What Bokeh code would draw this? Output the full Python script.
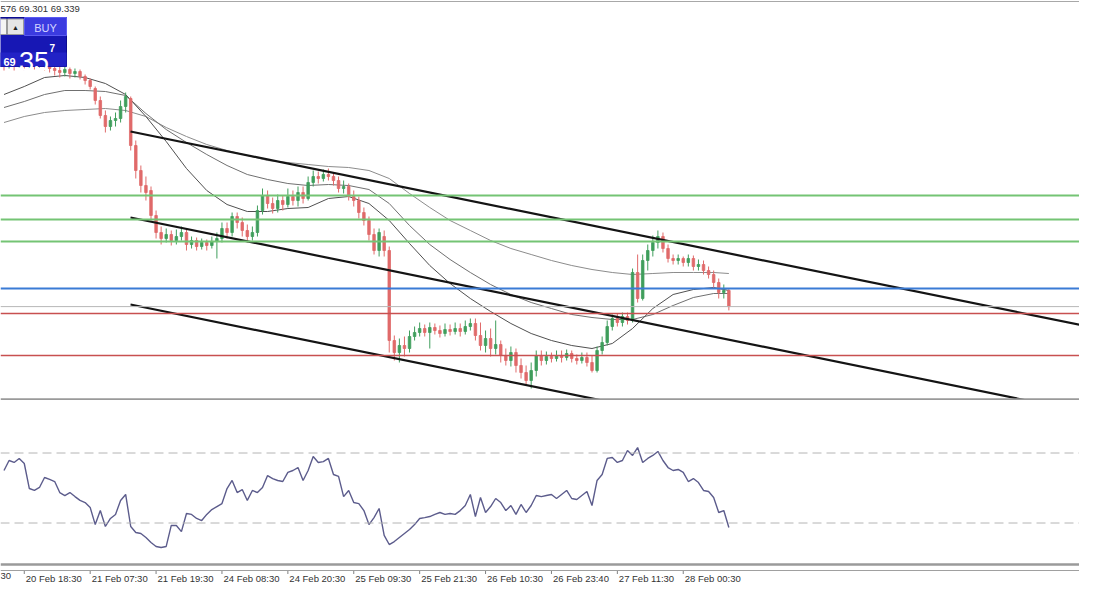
from bokeh.plotting import figure
from bokeh.layouts import column
from bokeh.models import Range1d, Span, ColumnDataSource
from bokeh.core.properties import value
from bokeh.embed import file_html
from bokeh.resources import INLINE

# ---------------- data ----------------
opens = [71.78, 71.74, 71.80, 71.76, 71.78, 71.74, 71.77, 71.75, 71.78, 71.74,
         71.72, 71.70, 71.68, 71.71, 71.67, 71.69, 71.64, 71.60, 71.52, 71.40,
         71.25, 71.14, 71.20, 71.22, 71.34, 71.42, 70.95, 70.70, 70.55, 70.50,
         70.25, 70.08, 70.02, 70.06, 70.00, 70.04, 70.08, 69.96, 70.00, 69.94,
         69.98, 69.95, 69.99, 70.02, 70.12, 70.08, 70.24, 70.18, 70.10, 70.04,
         70.08, 70.30, 70.45, 70.37, 70.32, 70.40, 70.36, 70.44, 70.40, 70.48,
         70.42, 70.58, 70.64, 70.62, 70.66, 70.64, 70.60, 70.52, 70.54, 70.44,
         70.40, 70.28, 70.20, 70.06, 69.90, 70.04, 69.90, 69.00, 68.88, 68.95,
         68.92, 69.04, 69.08, 69.12, 69.08, 69.13, 69.10, 69.07, 69.11, 69.09,
         69.12, 69.09, 69.14, 69.17, 69.05, 68.95, 69.02, 68.92, 68.96, 68.85,
         68.80, 68.88, 68.75, 68.68, 68.60, 68.70, 68.85, 68.80, 68.84, 68.82,
         68.85, 68.83, 68.87, 68.82, 68.80, 68.83, 68.78, 68.70, 68.90, 68.98,
         69.14, 69.22, 69.18, 69.24, 69.20, 69.68, 69.42, 69.80, 69.90, 69.98,
         70.04, 69.92, 69.82, 69.80, 69.82, 69.78, 69.82, 69.74, 69.76, 69.70,
         69.66, 69.58, 69.48, 69.50]
highs = [71.90, 71.88, 71.85, 71.84, 71.82, 71.83, 71.82, 71.84, 71.82, 71.78,
         71.77, 71.74, 71.74, 71.73, 71.72, 71.71, 71.66, 71.62, 71.54, 71.44,
         71.30, 71.24, 71.28, 71.40, 71.48, 71.44, 71.00, 70.75, 70.64, 70.54,
         70.30, 70.14, 70.12, 70.10, 70.11, 70.14, 70.12, 70.04, 70.03, 70.02,
         70.01, 70.04, 70.08, 70.18, 70.18, 70.28, 70.28, 70.23, 70.16, 70.14,
         70.35, 70.52, 70.50, 70.43, 70.46, 70.45, 70.52, 70.50, 70.54, 70.54,
         70.64, 70.70, 70.69, 70.71, 70.72, 70.68, 70.64, 70.60, 70.57, 70.50,
         70.44, 70.33, 70.24, 70.12, 70.12, 70.10, 69.94, 69.05, 69.02, 69.04,
         69.10, 69.14, 69.18, 69.16, 69.18, 69.17, 69.15, 69.17, 69.16, 69.18,
         69.17, 69.20, 69.22, 69.22, 69.18, 69.10, 69.12, 69.20, 69.00, 68.92,
         68.94, 68.92, 68.82, 68.75, 68.78, 68.90, 68.90, 68.89, 68.88, 68.90,
         68.90, 68.91, 68.90, 68.86, 68.88, 68.88, 68.85, 68.94, 69.04, 69.20,
         69.26, 69.27, 69.28, 69.28, 69.72, 69.86, 69.86, 69.96, 70.05, 70.10,
         70.08, 69.96, 69.86, 69.86, 69.84, 69.86, 69.85, 69.81, 69.80, 69.74,
         69.70, 69.62, 69.56, 69.52]
lows = [71.70, 71.72, 71.70, 71.73, 71.70, 71.72, 71.71, 71.73, 71.70, 71.68,
        71.65, 71.63, 71.64, 71.62, 71.63, 71.61, 71.56, 71.51, 71.36, 71.22,
        71.08, 71.10, 71.14, 71.18, 71.28, 70.90, 70.62, 70.48, 70.40, 70.20,
        70.02, 69.96, 69.98, 69.95, 69.96, 70.00, 69.90, 69.92, 69.90, 69.91,
        69.90, 69.92, 69.82, 69.98, 70.02, 70.04, 70.12, 70.04, 69.98, 70.00,
        70.04, 70.26, 70.32, 70.27, 70.28, 70.30, 70.33, 70.35, 70.34, 70.37,
        70.40, 70.54, 70.57, 70.59, 70.60, 70.55, 70.48, 70.47, 70.40, 70.34,
        70.22, 70.15, 70.00, 69.86, 69.84, 69.84, 68.88, 68.80, 68.78, 68.84,
        68.88, 69.00, 69.04, 69.04, 68.92, 69.06, 69.03, 69.04, 69.05, 69.06,
        69.04, 69.06, 69.10, 69.00, 68.90, 68.88, 68.84, 68.86, 68.78, 68.75,
        68.74, 68.68, 68.62, 68.56, 68.52, 68.64, 68.75, 68.76, 68.78, 68.79,
        68.78, 68.80, 68.78, 68.76, 68.77, 68.74, 68.68, 68.68, 68.86, 68.95,
        69.10, 69.14, 69.14, 69.16, 69.18, 69.38, 69.40, 69.70, 69.84, 69.92,
        69.88, 69.78, 69.76, 69.76, 69.74, 69.74, 69.70, 69.70, 69.66, 69.62,
        69.52, 69.42, 69.42, 69.301]
closes = [71.74, 71.80, 71.76, 71.78, 71.74, 71.77, 71.75, 71.78, 71.74, 71.72,
          71.70, 71.68, 71.71, 71.67, 71.69, 71.64, 71.60, 71.54, 71.40, 71.25,
          71.14, 71.20, 71.22, 71.34, 71.44, 70.95, 70.70, 70.55, 70.48, 70.25,
          70.08, 70.02, 70.06, 70.00, 70.04, 70.08, 69.96, 70.00, 69.94, 69.98,
          69.95, 69.99, 70.02, 70.12, 70.08, 70.24, 70.18, 70.10, 70.04, 70.08,
          70.30, 70.45, 70.37, 70.32, 70.40, 70.36, 70.44, 70.40, 70.48, 70.42,
          70.58, 70.64, 70.62, 70.66, 70.64, 70.60, 70.52, 70.54, 70.44, 70.40,
          70.28, 70.20, 70.06, 69.90, 70.08, 69.90, 69.00, 68.88, 68.95, 68.92,
          69.04, 69.08, 69.12, 69.08, 69.13, 69.10, 69.07, 69.11, 69.09, 69.12,
          69.09, 69.14, 69.17, 69.05, 68.95, 69.02, 68.92, 68.96, 68.85, 68.80,
          68.88, 68.75, 68.68, 68.60, 68.70, 68.85, 68.80, 68.84, 68.82, 68.85,
          68.83, 68.87, 68.82, 68.80, 68.83, 68.78, 68.70, 68.90, 68.98, 69.14,
          69.22, 69.18, 69.24, 69.20, 69.68, 69.42, 69.80, 69.90, 69.98, 70.04,
          69.92, 69.82, 69.80, 69.82, 69.78, 69.82, 69.74, 69.76, 69.70, 69.66,
          69.58, 69.48, 69.50, 69.339]

# moving averages, read at every 4th bar
ma_bars = [0, 4, 8, 12, 16, 20, 24, 28, 32, 36, 40, 44, 48, 52, 56, 60, 64, 68,
           72, 76, 80, 84, 88, 92, 96, 100, 104, 108, 112, 116, 120, 124, 128,
           132, 136, 140, 143]
ma_fast = [71.46, 71.54, 71.63, 71.65, 71.63, 71.57, 71.46, 71.24, 70.99, 70.72,
           70.50, 70.36, 70.29, 70.29, 70.32, 70.33, 70.42, 70.44, 70.37, 70.20,
           69.97, 69.75, 69.57, 69.42, 69.29, 69.17, 69.07, 69.00, 68.95, 68.92,
           68.97, 69.12, 69.32, 69.46, 69.51, 69.53, 69.50]
ma_mid = [71.33, 71.39, 71.46, 71.50, 71.50, 71.49, 71.45, 71.27, 71.11, 70.98,
          70.86, 70.75, 70.66, 70.61, 70.57, 70.55, 70.56, 70.55, 70.51, 70.37,
          70.15, 69.96, 69.81, 69.68, 69.56, 69.46, 69.38, 69.32, 69.26, 69.23,
          69.21, 69.21, 69.26, 69.35, 69.43, 69.47, 69.47]
ma_slow = [71.18, 71.24, 71.28, 71.30, 71.31, 71.32, 71.30, 71.24, 71.13, 71.04,
           70.96, 70.90, 70.85, 70.80, 70.78, 70.76, 70.74, 70.73, 70.70, 70.62,
           70.47, 70.33, 70.20, 70.10, 70.00, 69.92, 69.86, 69.80, 69.75, 69.71,
           69.68, 69.66, 69.67, 69.68, 69.68, 69.68, 69.67]

# oscillator (RSI)
rsi = [60.0, 65.7, 64.6, 66.9, 64.0, 49.7, 48.6, 50.3, 56.0, 54.9,
       53.7, 47.4, 45.7, 47.4, 45.1, 42.9, 41.7, 38.9, 29.1, 37.1,
       28.0, 32.6, 34.9, 42.9, 46.3, 28.0, 24.6, 24.0, 21.7, 18.9,
       16.6, 16.0, 16.6, 28.6, 28.6, 25.1, 35.4, 34.9, 32.6, 31.4,
       34.9, 37.7, 39.4, 41.1, 49.7, 54.3, 47.4, 49.1, 42.9, 48.6,
       47.4, 50.3, 57.1, 55.4, 54.3, 53.7, 58.9, 60.0, 61.7, 54.3,
       60.0, 68.0, 64.6, 65.1, 66.9, 57.7, 56.6, 45.1, 48.6, 41.7,
       41.1, 37.1, 29.1, 33.1, 38.3, 22.9, 17.7, 19.4, 21.7, 24.0,
       26.3, 29.1, 32.6, 33.1, 33.7, 34.9, 36.0, 34.9, 35.4, 34.9,
       37.1, 40.0, 46.3, 33.7, 44.6, 36.0, 39.4, 44.0, 41.7, 37.1,
       40.0, 34.9, 40.6, 36.0, 40.0, 45.7, 45.1, 45.7, 46.3, 44.0,
       46.3, 48.6, 44.0, 43.4, 45.7, 48.0, 40.0, 54.3, 57.7, 66.9,
       67.4, 64.6, 65.7, 71.4, 68.6, 73.1, 64.6, 66.9, 68.6, 70.9,
       65.7, 61.7, 60.0, 60.6, 58.9, 53.7, 55.4, 53.1, 48.6, 48.0,
       44.6, 36.0, 37.1, 27.4]
rsi_levels = [70, 30]

# horizontal levels
green_levels = [70.45, 70.21, 69.99]
blue_levels = [69.52]
bid_price = 69.339
red_levels = [69.27, 68.85]

# trend channel (bar index, price)
chan_x0 = [24.96, 24.96, 24.96]
chan_y0 = [71.09, 70.23, 69.36]
chan_x1 = [215.3, 215.3, 137.4]
chan_y1 = [69.125, 68.26, 68.20]

# time axis
tick_bars = [4, 17, 30, 43, 56, 69, 82, 95, 108, 121, 134]
tick_labels = ["20 Feb 18:30", "21 Feb 07:30", "21 Feb 19:30", "24 Feb 08:30",
               "24 Feb 20:30", "25 Feb 09:30", "25 Feb 21:30", "26 Feb 10:30",
               "26 Feb 23:40", "27 Feb 11:30", "28 Feb 00:30"]
edge_label = "30"

header_text = "576 69.301 69.339"
buy_label = "BUY"
price_small, price_big, price_pip = "69", "35", "7"

# ---------------- layout helpers (screen px -> data) ----------------
X0_PX = 3.5          # px of bar 0
BAR_PX = 5.069       # px per bar
PRICE_AT_0 = 72.40   # price at px row 0
PX_PER_PRICE = 100.0
RSI_TOP_PX = 400.0
PX_PER_RSI = 1.75


def bx(px):
    return (px - X0_PX) / BAR_PX


def py(px):
    return PRICE_AT_0 - px / PX_PER_PRICE


def ry(px):
    return 100.0 - (px - RSI_TOP_PX) / PX_PER_RSI


FONT = value("Liberation Sans")
W = 1079
H1 = 400
H2 = 184

xr = Range1d(bx(0), bx(W))

# ---------------- main price pane ----------------
p1 = figure(width=W, height=H1, x_range=xr, y_range=Range1d(py(H1), py(0)),
            x_axis_type=None, y_axis_type=None, toolbar_location=None,
            output_backend="svg", min_border=0, outline_line_color=None,
            background_fill_color="white", border_fill_color="white")

p1.add_layout(Span(location=py(1), dimension="width", line_color="#a8a8a8", line_width=1))

for lv in green_levels:
    p1.add_layout(Span(location=lv, dimension="width", line_color="#74c474", line_width=2))
for lv in blue_levels:
    p1.add_layout(Span(location=lv, dimension="width", line_color="#3a7bd5", line_width=2))
p1.add_layout(Span(location=bid_price, dimension="width", line_color="#b8b8b8", line_width=1))
for lv in red_levels:
    p1.add_layout(Span(location=lv, dimension="width", line_color="#c85050", line_width=1.6))

p1.line(ma_bars, ma_slow, line_color="#8c8c8c", line_width=1)
p1.line(ma_bars, ma_mid, line_color="#707070", line_width=1)
p1.line(ma_bars, ma_fast, line_color="#505050", line_width=1)

n = len(closes)
up = dict(x=[], h=[], l=[], top=[], bot=[])
dn = dict(x=[], h=[], l=[], top=[], bot=[])
for i in range(n):
    d = up if closes[i] >= opens[i] else dn
    d["x"].append(i)
    d["h"].append(highs[i])
    d["l"].append(lows[i])
    d["top"].append(max(opens[i], closes[i]))
    d["bot"].append(min(opens[i], closes[i]))

for d, col in ((up, "#3f9e5c"), (dn, "#e06a6a")):
    src = ColumnDataSource(d)
    p1.segment(x0="x", y0="l", x1="x", y1="h", source=src, line_color=col, line_width=1)
    p1.vbar(x="x", width=0.5, top="top", bottom="bot", source=src,
            fill_color=col, line_color=col, line_width=0.8)

p1.segment(x0=chan_x0, y0=chan_y0, x1=chan_x1, y1=chan_y1,
           line_color="#141414", line_width=2.2)

# pane separator
p1.add_layout(Span(location=py(399), dimension="width", line_color="#9a9a9a", line_width=2.5))

# header text
p1.text(x=[bx(0)], y=[py(2)], text=[header_text], text_font=FONT,
        text_font_size="9.5px", text_color="#333333",
        text_align="left", text_baseline="top")

# one-click trading panel
p1.quad(left=[bx(-2)], right=[bx(66)], top=[py(17)], bottom=[py(66)],
        fill_color="#1717b4", line_color="#0c0c90", line_width=1)
p1.quad(left=[bx(-2)], right=[bx(66)], top=[py(52)], bottom=[py(66)],
        fill_color="#2222c6", line_color=None)
p1.quad(left=[bx(24)], right=[bx(66)], top=[py(17)], bottom=[py(35)],
        fill_color="#3b3be0", line_color="#5a5af0", line_width=1)
p1.quad(left=[bx(-2)], right=[bx(6)], top=[py(18.5)], bottom=[py(34)],
        fill_color="#f4f4f4", line_color="#9a9a9a", line_width=1)
p1.quad(left=[bx(7)], right=[bx(23)], top=[py(18.5)], bottom=[py(34)],
        fill_color="#e6e6e6", line_color="#9a9a9a", line_width=1)
p1.text(x=[bx(15)], y=[py(26.5)], text=["\u25b2"], text_font=FONT,
        text_font_size="7px", text_color="#222222",
        text_align="center", text_baseline="middle")
p1.text(x=[bx(45)], y=[py(27)], text=[buy_label], text_font=FONT,
        text_font_size="11px", text_color="#d4d4ff",
        text_align="center", text_baseline="middle")
p1.text(x=[bx(3)], y=[py(61)], text=[price_small], text_font=FONT,
        text_font_size="11px", text_font_style="bold", text_color="white",
        text_align="left", text_baseline="alphabetic")
p1.text(x=[bx(18.5)], y=[py(61)], text=[price_big], text_font=FONT,
        text_font_size="27px", text_color="white",
        text_align="left", text_baseline="alphabetic")
p1.text(x=[bx(49)], y=[py(47)], text=[price_pip], text_font=FONT,
        text_font_size="10px", text_font_style="bold", text_color="white",
        text_align="left", text_baseline="alphabetic")

# ---------------- oscillator pane + time scale ----------------
p2 = figure(width=W, height=H2, x_range=xr, y_range=Range1d(ry(H1 + H2), ry(H1)),
            x_axis_type=None, y_axis_type=None, toolbar_location=None,
            output_backend="svg", min_border=0, outline_line_color=None,
            background_fill_color="white", border_fill_color="white")

for lv in rsi_levels:
    p2.add_layout(Span(location=lv, dimension="width", line_color="#b4b4b4",
                       line_width=1, line_dash="9 5"))

p2.line(list(range(n)), rsi, line_color="#5c5c8c", line_width=1.4)

# bottom border of the oscillator window and the time scale line
p2.add_layout(Span(location=ry(564), dimension="width", line_color="#9a9a9a", line_width=2.5))
p2.add_layout(Span(location=ry(570), dimension="width", line_color="#a0a0a0", line_width=1))
p2.segment(x0=tick_bars, y0=[ry(570)] * len(tick_bars), x1=tick_bars,
           y1=[ry(573.5)] * len(tick_bars), line_color="#808080", line_width=1)
p2.text(x=[b + bx(X0_PX + 1.5) for b in tick_bars], y=[ry(572)] * len(tick_bars),
        text=tick_labels, text_font=FONT, text_font_size="9.5px",
        text_color="#333333", text_align="left", text_baseline="top")
p2.text(x=[bx(0)], y=[ry(572)], text=[edge_label], text_font=FONT,
        text_font_size="9.5px", text_color="#333333",
        text_align="left", text_baseline="top")

layout = column(p1, p2, spacing=0)
open("out.html", "w").write(file_html(layout, INLINE))
